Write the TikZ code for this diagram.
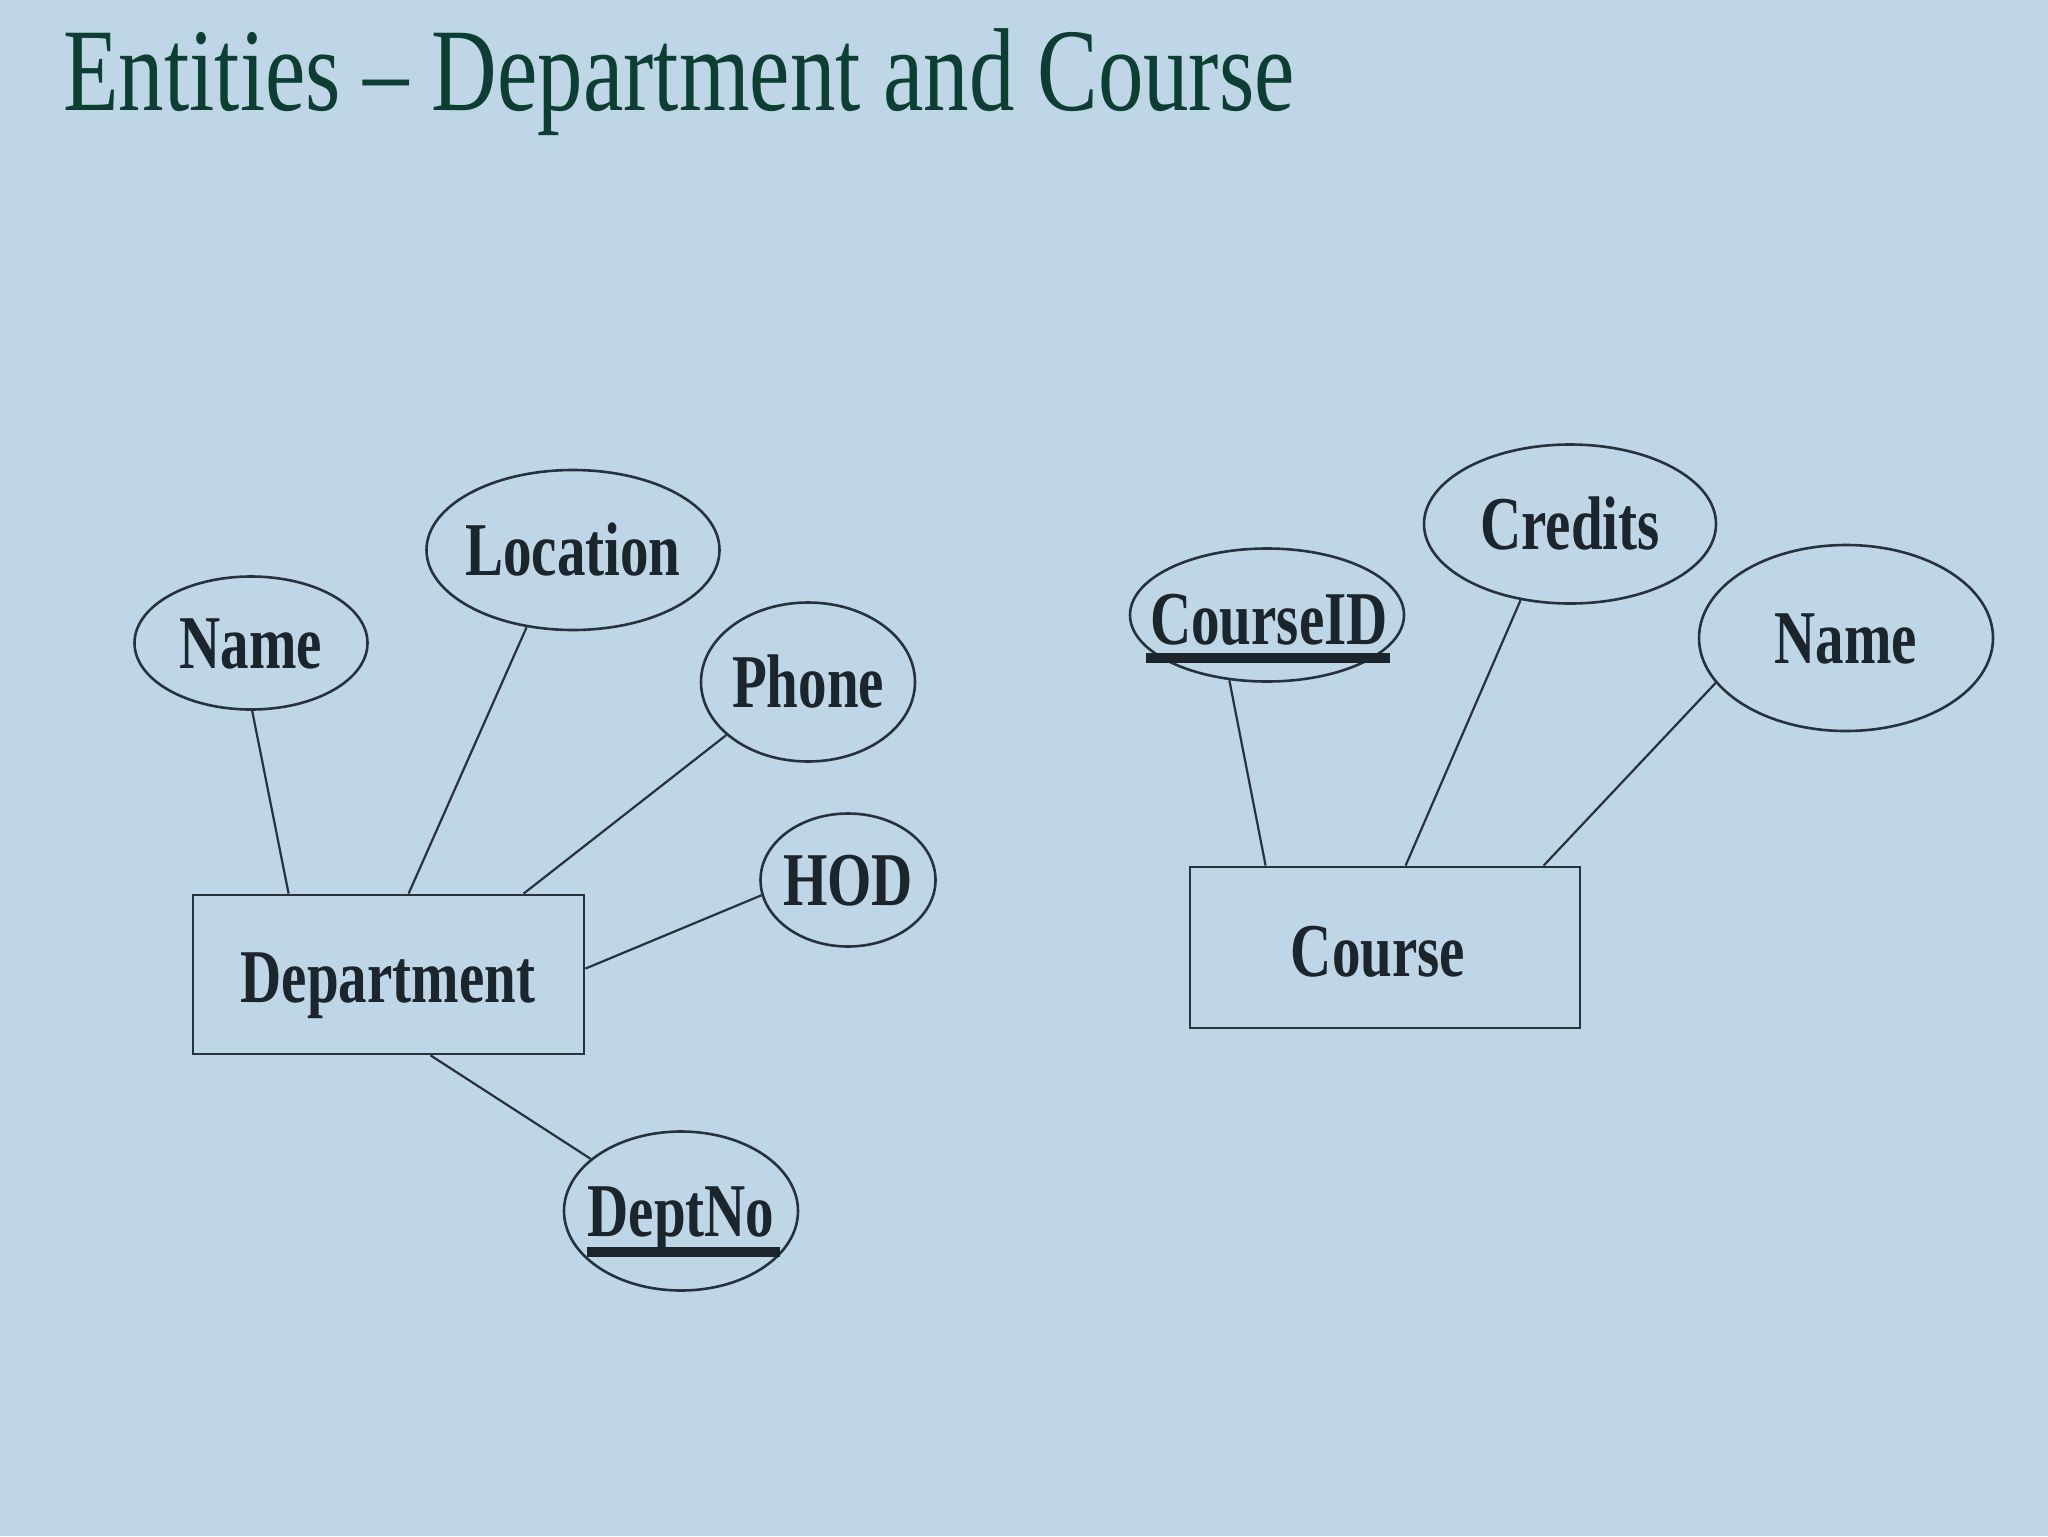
\documentclass[tikz,border=0pt]{standalone}
\usepackage{fontspec}
\setmainfont{Liberation Serif}
\usetikzlibrary{shapes.geometric,calc}
\definecolor{bg}{RGB}{190,214,230}
\definecolor{titlecol}{RGB}{12,62,50}
\definecolor{inkcol}{RGB}{40,50,60}
\definecolor{txtcol}{RGB}{28,36,44}
\newcommand\sqz[1]{\scalebox{0.75}[1]{#1}}
\begin{document}
\begin{tikzpicture}[x=0.5pt,y=-0.5pt,
  lbl/.style={inner sep=0pt, text height=25pt, text depth=0pt, text=txtcol,
    font=\fontsize{38}{40}\selectfont\bfseries},
  attr/.style={ellipse, draw=inkcol, line width=1.3pt, inner sep=0pt},
  ent/.style={rectangle, draw=inkcol, line width=1.4pt, inner sep=0pt},
  link/.style={draw=inkcol, line width=1.1pt},
  keyline/.style={draw=txtcol, line width=5pt}]
\fill[bg] (0,0) rectangle (2048,1536);
\useasboundingbox (0,0) rectangle (2048,1536);

\node[anchor=base west, inner sep=0pt, text=titlecol, font=\fontsize{59}{60}\selectfont]
  (title) at (63,111) {\scalebox{0.77}[1]{Entities – Department and Course}};

% Department
\node[ent, minimum width=195.5pt, minimum height=79.5pt] (dept) at (388.5,974.5) {};
\node[lbl] (deptlbl) at (388,977) {\sqz{Department}};
\node[attr, minimum width=116.5pt, minimum height=66.5pt] (nameD) at (251,643) {};
\node[lbl] (nameDlbl) at (nameD.center) {\sqz{Name}};
\node[attr, minimum width=146.5pt, minimum height=80pt] (loc) at (573,550) {};
\node[lbl] (loclbl) at (loc.center) {\sqz{Location}};
\node[attr, minimum width=107pt, minimum height=79.5pt] (phone) at (808,682) {};
\node[lbl] (phonelbl) at (phone.center) {\sqz{Phone}};
\node[attr, minimum width=87.5pt, minimum height=66.5pt] (hod) at (848,880) {};
\node[lbl] (hodlbl) at (hod.center) {\sqz{HOD}};
\node[attr, minimum width=117pt, minimum height=79.5pt] (deptno) at (681,1211) {};
\node[lbl] (deptnolbl) at (deptno.center) {\sqz{DeptNo}};

% Course
\node[ent, minimum width=195pt, minimum height=80.5pt] (course) at (1385,947.5) {};
\node[lbl] (courselbl) at (1378,951) {\sqz{Course}};
\node[attr, minimum width=137pt, minimum height=66.5pt] (cid) at (1267,615) {};
\node[lbl] (cidlbl) at (1269,619) {\sqz{CourseID}};
\node[attr, minimum width=146pt, minimum height=79.5pt] (cred) at (1570,524) {};
\node[lbl] (credlbl) at (cred.center) {\sqz{Credits}};
\node[attr, minimum width=147pt, minimum height=93pt] (nameC) at (1846,638) {};
\node[lbl] (nameClbl) at (nameC.center) {\sqz{Name}};

% connectors
\draw[link] (nameD.-89) -- ($(dept.north west)+(97,0)$);
\draw[link] (loc.239) -- ($(dept.north west)+(217,0)$);
\draw[link] (phone.213) -- ($(dept.north west)+(332,0)$);
\draw[link] (hod.190) -- ($(dept.north east)+(0,75)$);
\draw[link] (deptno.150) -- ($(dept.south west)+(239,0)$);
\draw[link] (cid.240) -- ($(course.north west)+(77,0)$);
\draw[link] (cred.237) -- ($(course.north west)+(217,0)$);
\draw[link] (nameC.199) -- ($(course.north west)+(355,0)$);

% key underlines
\draw[keyline] ($(deptno.center)+(-94,41)$) -- ++(193,0);
\draw[keyline] ($(cid.center)+(-121,43)$) -- ++(244,0);
\end{tikzpicture}
\end{document}
